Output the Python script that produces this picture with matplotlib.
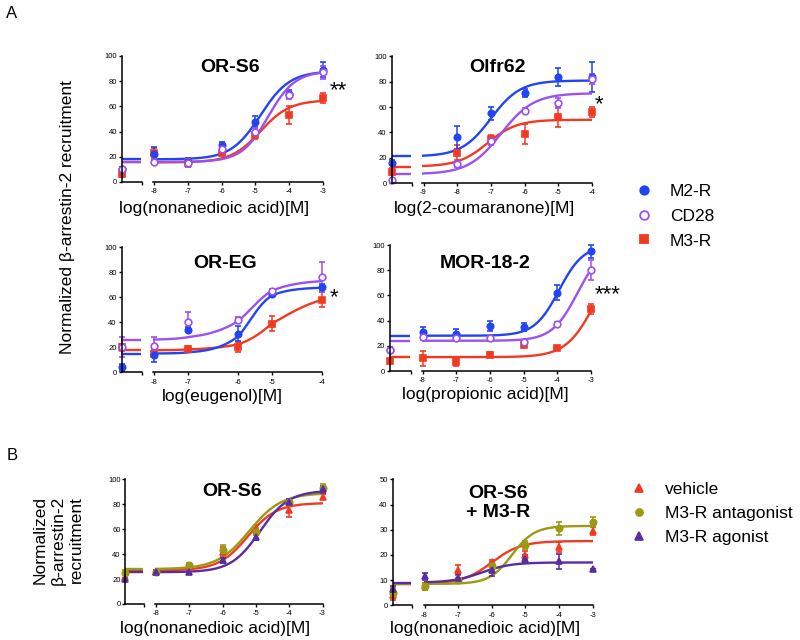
import numpy as np
import matplotlib
matplotlib.use('Agg')
import matplotlib.pyplot as plt
from matplotlib.lines import Line2D
from matplotlib.ticker import NullLocator

plt.rcParams['font.family'] = ['Liberation Sans', 'DejaVu Sans']

# ---------------- data ----------------
# each series: first value = control (no ligand), then one value per dose
# fits: [bottom, top, logEC50, hill]

# A: OR-S6 / nonanedioic acid
ORS6_doses = [-8, -7, -6, -5, -4, -3]
ORS6_M2R = [10, 22, 16, 29, 48, 70, 89]
ORS6_M2R_err = [2, 6, 3, 3, 4, 3, 6]
ORS6_CD28 = [10, 16, 15, 26, 40, 69, 87]
ORS6_CD28_err = [1, 2, 3, 3, 3, 3, 5]
ORS6_M3R = [6, 23, 15, 23, 37, 53, 67]
ORS6_M3R_err = [2, 4, 3, 2, 3, 7, 4]
ORS6_M2R_fit = [18, 88, -4.85, 1.0]
ORS6_CD28_fit = [16, 88, -4.62, 1.1]
ORS6_M3R_fit = [15.5, 65, -4.85, 1.0]

# A: Olfr62 / 2-coumaranone
OLFR62_doses = [-8, -7, -6, -5, -4]
OLFR62_ticks = [-9, -8, -7, -6, -5, -4]
OLFR62_M2R = [16, 36, 55, 71, 84, 84]
OLFR62_M2R_err = [2, 9, 5, 3, 7, 12]
OLFR62_CD28 = [2, 15, 33, 57, 63, 82]
OLFR62_CD28_err = [1, 2, 3, 2, 4, 4]
OLFR62_M3R = [9, 24, 35, 39, 52, 56]
OLFR62_M3R_err = [3, 6, 3, 8, 8, 4]
OLFR62_M2R_fit = [21, 81, -7.0, 1.0]
OLFR62_CD28_fit = [7, 71, -6.7, 0.9]
OLFR62_M3R_fit = [13, 50, -7.1, 1.0]

# A: OR-EG / eugenol
OREG_doses = [-8, -7, -6, -5, -4]
OREG_M2R = [4, 14, 34, 31, 63, 68]
OREG_M2R_err = [3, 6, 2, 6, 2, 3]
OREG_CD28 = [20, 21, 40, 42, 65, 76]
OREG_CD28_err = [8, 7, 8, 2, 2, 12]
OREG_M3R = [20, 15, 19, 20, 39, 58]
OREG_M3R_err = [3, 3, 2, 4, 6, 6]
OREG_M2R_fit = [15, 68, -5.65, 1.3]
OREG_CD28_fit = [26, 74, -5.65, 1.0]
OREG_M3R_fit = [17.5, 65, -4.9, 0.85]

# A: MOR-18-2 / propionic acid
MOR_doses = [-8, -7, -6, -5, -4, -3]
MOR_M2R = [17, 31, 29, 36, 35, 62, 95]
MOR_M2R_err = [2, 4, 4, 4, 3, 6, 5]
MOR_CD28 = [17, 27, 26, 26, 23, 37, 80]
MOR_CD28_err = [1, 2, 2, 2, 2, 2, 8]
MOR_M3R = [8, 10, 7, 13, 21, 18, 49]
MOR_M3R_err = [1, 6, 3, 2, 1, 1, 4]
MOR_M2R_fit = [28, 100, -3.95, 1.2]
MOR_CD28_fit = [24, 100, -3.4, 1.15]
MOR_M3R_fit = [11, 100, -2.85, 1.0]

# B: OR-S6 (left) and OR-S6 + M3-R (right)
B_doses = [-8, -7, -6, -5, -4, -3]
B1_vehicle = [22, 26, 30, 42, 60, 75, 86]
B1_vehicle_err = [2, 1, 2, 4, 3, 5, 2]
B1_antag = [25, 26, 31, 43, 58, 82, 93]
B1_antag_err = [2, 1, 2, 4, 3, 2, 3]
B1_agon = [20, 26, 26, 35, 54, 82, 92]
B1_agon_err = [1, 1, 2, 2, 3, 2, 3]
B1_vehicle_fit = [27, 81, -5.25, 1.0]
B1_antag_fit = [28, 89, -5.2, 0.9]
B1_agon_fit = [25.5, 91, -4.88, 1.0]

B2_vehicle = [4, 7.5, 14, 17, 20, 23, 29.5]
B2_vehicle_err = [2, 1.5, 2, 1, 1.5, 2, 1.5]
B2_antag = [5, 7.5, 10, 15.5, 24, 30.5, 33]
B2_antag_err = [2, 1.5, 1, 1.5, 1.5, 2.5, 2]
B2_agon = [6.5, 11.5, 11, 14, 18.5, 17.5, 14.5]
B2_agon_err = [1, 1.5, 1.5, 2.5, 1.5, 3, 0]
B2_vehicle_fit = [8.5, 25.5, -6.0, 1.0]
B2_antag_fit = [8.5, 31.5, -5.4, 1.3]
B2_agon_fit = [9, 17, -6.3, 1.0]

A_labels = ['M2-R', 'CD28', 'M3-R']
B_labels = ['vehicle', 'M3-R antagonist', 'M3-R agonist']

# ---------------- style ----------------
BLUE = '#2244f2'
PURPLE = '#9b52f0'
RED = '#f23a22'
OLIVE = '#9c9a14'
DPURPLE = '#5a2ca2'
LW = 1.7
FS_TICK = 5.5
FS_LAB = 12.5
FS_TITLE = 14

# uneven tick spacing of the eugenol axis (in decade units)
OREG_axis_spacing = [0, 1.0, 2.5, 3.5, 5.0]

W, H = 800, 640
fig = plt.figure(figsize=(8, 6.4), dpi=100)


def fx(px):
    return px / W


def fy(py):
    return 1 - py / H


def box(x0, x1, ytop, ybot):
    return [x0 / W, 1 - ybot / H, (x1 - x0) / W, (ybot - ytop) / H]


def sig(x, p):
    b, t, e, h = p
    return b + (t - b) / (1 + 10 ** (h * (e - x)))


def panel(cx, mx, yb, xlim, xticks, ylim, yticks, doses, series, scale=None):
    axc = fig.add_axes(box(cx[0], cx[1], yb[0], yb[1]))
    axm = fig.add_axes(box(mx[0], mx[1], yb[0], yb[1]))
    for ax in (axc, axm):
        ax.set_ylim(*ylim)
        for s in ('top', 'right'):
            ax.spines[s].set_visible(False)
        for s in ('bottom', 'left'):
            ax.spines[s].set_linewidth(1.1)
        ax.patch.set_alpha(0)
        ax.tick_params(direction='out', length=2.5, width=1.0,
                       labelsize=FS_TICK, pad=1)
    axm.tick_params(axis='x', pad=2)
    axm.spines['left'].set_visible(False)
    axm.tick_params(axis='y', left=False, labelleft=False)
    axc.set_xlim(0, 1)
    axc.set_xticks([1])
    axc.set_xticklabels([''])
    axc.set_yticks(yticks)
    axc.set_yticklabels([str(v) for v in yticks])
    if scale is not None:
        axm.set_xscale('function', functions=scale)
    axm.set_xlim(*xlim)
    axm.set_xticks(xticks)
    axm.set_xticklabels([str(v) for v in xticks])
    axm.xaxis.set_minor_locator(NullLocator())
    xs = np.linspace(xlim[0], xlim[1], 400)
    for vals, errs, fit, color, marker, mfc, ms in series:
        axc.plot([0, 0.95], [fit[0], fit[0]], color=color, lw=LW,
                 solid_capstyle='butt')
        axm.plot(xs, sig(xs, fit), color=color, lw=LW)
        for ax, x, v, e in ((axc, [0], vals[:1], errs[:1]),
                            (axm, doses, vals[1:], errs[1:])):
            c = ax.errorbar(x, v, yerr=e, fmt=marker, color=color, mfc=mfc,
                            mec=color, ms=ms, mew=1.2, elinewidth=1.1,
                            capsize=2.2, capthick=1.1)
            for art in c.get_children():
                art.set_clip_on(False)
    return axc, axm


A_style = [(RED, 's', RED, 4.3), (BLUE, 'o', BLUE, 4.6), (PURPLE, 'o', 'white', 4.8)]


def a_series(m3, m3e, m3f, m2, m2e, m2f, cd, cde, cdf):
    return [(m3, m3e, m3f) + A_style[0], (m2, m2e, m2f) + A_style[1],
            (cd, cde, cdf) + A_style[2]]


# A1 OR-S6
panel((122, 142), (153, 323), (56, 182), (-8.03, -3), ORS6_doses,
      (0, 100), [0, 20, 40, 60, 80, 100], ORS6_doses,
      a_series(ORS6_M3R, ORS6_M3R_err, ORS6_M3R_fit,
               ORS6_M2R, ORS6_M2R_err, ORS6_M2R_fit,
               ORS6_CD28, ORS6_CD28_err, ORS6_CD28_fit))

# A2 Olfr62
panel((391.5, 411.5), (422.5, 592), (56.5, 183), (-9.03, -4), OLFR62_ticks,
      (0, 100), [0, 20, 40, 60, 80, 100], OLFR62_doses,
      a_series(OLFR62_M3R, OLFR62_M3R_err, OLFR62_M3R_fit,
               OLFR62_M2R, OLFR62_M2R_err, OLFR62_M2R_fit,
               OLFR62_CD28, OLFR62_CD28_err, OLFR62_CD28_fit))

# A3 OR-EG (uneven axis)
_kx = [-10] + OREG_doses + [-2]
_kp = [-2] + OREG_axis_spacing + [7]


def _fwd(x):
    return np.interp(x, _kx, _kp)


def _inv(p):
    return np.interp(p, _kp, _kx)


panel((121.5, 142), (153, 322.3), (247.3, 372.3), (-8.03, -4), OREG_doses,
      (0, 100), [0, 20, 40, 60, 80, 100], OREG_doses,
      a_series(OREG_M3R, OREG_M3R_err, OREG_M3R_fit,
               OREG_M2R, OREG_M2R_err, OREG_M2R_fit,
               OREG_CD28, OREG_CD28_err, OREG_CD28_fit),
      scale=(_fwd, _inv))

# A4 MOR-18-2
panel((390, 411), (421.5, 591), (245, 371), (-8.03, -3), MOR_doses,
      (0, 100), [0, 20, 40, 60, 80, 100], MOR_doses,
      a_series(MOR_M3R, MOR_M3R_err, MOR_M3R_fit,
               MOR_M2R, MOR_M2R_err, MOR_M2R_fit,
               MOR_CD28, MOR_CD28_err, MOR_CD28_fit))

B_style = [(RED, '^', RED, 4.8), (OLIVE, 'o', OLIVE, 4.6), (DPURPLE, '^', DPURPLE, 4.8)]

panel((125.5, 144), (155, 322.5), (479.3, 604), (-8.03, -3), B_doses,
      (0, 100), [0, 20, 40, 60, 80, 100], B_doses,
      [(B1_vehicle, B1_vehicle_err, B1_vehicle_fit) + B_style[0],
       (B1_antag, B1_antag_err, B1_antag_fit) + B_style[1],
       (B1_agon, B1_agon_err, B1_agon_fit) + B_style[2]])

panel((392.5, 412), (423.5, 592.7), (479.3, 605.3), (-8.03, -3), B_doses,
      (0, 50), [0, 10, 20, 30, 40, 50], B_doses,
      [(B2_vehicle, B2_vehicle_err, B2_vehicle_fit) + B_style[0],
       (B2_antag, B2_antag_err, B2_antag_fit) + B_style[1],
       (B2_agon, B2_agon_err, B2_agon_fit) + B_style[2]])

# ---------------- texts ----------------
def t(px, py, s, **kw):
    fig.text(fx(px), fy(py), s, **kw)


for px, py, s in [(230, 67, 'OR-S6'), (497, 67, 'Olfr62'),
                  (225, 263, 'OR-EG'), (485, 263, 'MOR-18-2'),
                  (232, 491, 'OR-S6')]:
    t(px, py, s, ha='center', va='center', fontsize=FS_TITLE, fontweight='bold')
t(498, 503, 'OR-S6\n+ M3-R', ha='center', va='center', fontsize=FS_TITLE,
  fontweight='bold', linespacing=1.1)

for px, py, s in [(214, 209, 'log(nonanedioic acid)[M]'),
                  (485, 209, 'log(2-coumaranone)[M]'),
                  (222, 397, 'log(eugenol)[M]'),
                  (485, 395, 'log(propionic acid)[M]'),
                  (215, 629, 'log(nonanedioic acid)[M]'),
                  (485, 629, 'log(nonanedioic acid)[M]')]:
    t(px, py, s, ha='center', va='center', fontsize=FS_LAB)

t(68, 217, 'Normalized β-arrestin-2 recruitment', ha='center', va='center',
  rotation=90, fontsize=FS_LAB)
t(58, 540, 'Normalized\nβ-arrestin-2\nrecruitment', ha='center', va='center',
  rotation=90, fontsize=FS_LAB, linespacing=1.25)

for px, py, s in [(338, 87, '**'), (599, 101, '*'), (334, 294, '*'),
                  (608, 291, '***')]:
    t(px, py + 9, s, ha='center', va='baseline', fontsize=16)

t(12, 14, 'A', ha='center', va='center', fontsize=12)
t(12, 455, 'B', ha='center', va='center', fontsize=12)

# ---------------- legends ----------------
hA = [Line2D([], [], ls='none', marker=m, color=c, mfc=f, mec=c, ms=ms + 1.5, mew=1.3)
      for (c, m, f, ms) in [A_style[1], A_style[2], A_style[0]]]
fig.legend(hA, A_labels, loc='upper left', bbox_to_anchor=(fx(635.3), fy(184)),
           frameon=False, fontsize=FS_LAB, handlelength=1.0, handletextpad=1.0,
           borderpad=0, borderaxespad=0, labelspacing=0.55)
hB = [Line2D([], [], ls='none', marker=m, color=c, mfc=f, mec=c, ms=ms + 0.5, mew=1.2)
      for (c, m, f, ms) in B_style]
fig.legend(hB, B_labels, loc='upper left', bbox_to_anchor=(fx(630.3), fy(482)),
           frameon=False, fontsize=FS_LAB, handlelength=1.0, handletextpad=1.0,
           borderpad=0, borderaxespad=0, labelspacing=0.5)

fig.savefig('out.png', dpi=100)
